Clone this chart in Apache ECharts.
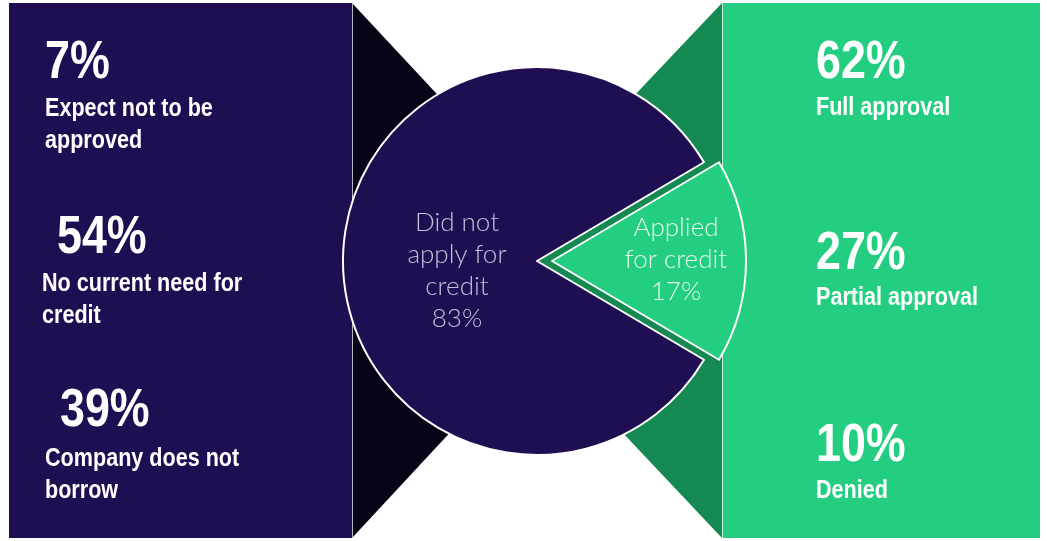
<!DOCTYPE html>
<html>
<head>
<meta charset="utf-8">
<script src="https://cdn.jsdelivr.net/npm/echarts@6/dist/echarts.min.js"></script>
<style>
html,body{margin:0;padding:0;background:#fff;}
#chart{width:1047px;height:541px;}
</style>
</head>
<body>
<div id="chart"></div>
<script>
// ---- data ----
const pieCategories = ['Applied\nfor credit', 'Did not\napply for\ncredit'];
const pieShares = [17, 83];
const leftValues = [7, 54, 39];
const leftLabels = ['Expect not to be\napproved', 'No current need for\ncredit', 'Company does not\nborrow'];
const rightValues = [62, 27, 10];
const rightLabels = ['Full approval', 'Partial approval', 'Denied'];

// ---- layout / style ----
const C = {
  purple: '#200e52', black: '#080316', green: '#23ce80', darkGreen: '#148952'
};
const leftNumPos = [[45, 63.5], [57, 238.5], [60, 411]];
const leftTextPos = [[45, 108.5], [42, 283.5], [45, 458.5]];
const rightNumPos = [[816, 63], [816, 254.5], [816, 446]];
const rightTextPos = [[816, 108], [816, 298], [816, 491]];
const labelOffsets = [[24, -1.5], [20, 9.5]];
const condense = 0.83;
const numFont = 'bold 54px "Liberation Sans", Arial, sans-serif';
const txtFont = 'bold 26px "Liberation Sans", Arial, sans-serif';

function numText(v, pos) {
  return { type: 'text', x: pos[0], y: pos[1], z: 10, scaleX: condense,
    style: { text: v + '%', fill: '#fff', font: numFont, align: 'left', verticalAlign: 'middle' } };
}
function lblText(t, pos) {
  return { type: 'text', x: pos[0], y: pos[1] - 16, z: 10, scaleX: condense,
    style: { text: t, fill: '#fff', font: txtFont, lineHeight: 32, align: 'left', verticalAlign: 'top' } };
}

const graphics = [
  { type: 'rect', z: 0, shape: { x: 9, y: 3, width: 343, height: 535 }, style: { fill: C.purple } },
  { type: 'rect', z: 0, shape: { x: 722, y: 3, width: 318, height: 535 }, style: { fill: C.green } },
  { type: 'polygon', z: 1, shape: { points: [[352, 3], [601, 270], [352, 538]] }, style: { fill: C.black } },
  { type: 'polygon', z: 2, shape: { points: [[722, 3], [469, 270], [722, 538]] }, style: { fill: C.darkGreen } },
  { type: 'line', z: 3, shape: { x1: 352.5, y1: 3, x2: 352.5, y2: 538 }, style: { stroke: '#b8b6c4', lineWidth: 1 } },
  { type: 'line', z: 3, shape: { x1: 722.5, y1: 3, x2: 722.5, y2: 538 }, style: { stroke: '#c8f0dc', lineWidth: 1 } }
];
leftValues.forEach((v, i) => { graphics.push(numText(v, leftNumPos[i])); graphics.push(lblText(leftLabels[i], leftTextPos[i])); });
rightValues.forEach((v, i) => { graphics.push(numText(v, rightNumPos[i])); graphics.push(lblText(rightLabels[i], rightTextPos[i])); });

const sliceColors = [C.green, C.purple];
const labelColors = ['#e4f8ee', '#c6c0da'];

const chart = echarts.init(document.getElementById('chart'), null, { renderer: 'canvas' });
chart.setOption({
  animation: false,
  backgroundColor: '#fff',
  graphic: { elements: graphics },
  series: [{
    type: 'pie',
    z: 5,
    center: [537, 261],
    radius: 194,
    startAngle: pieShares[0] * 3.6 / 2,
    clockwise: true,
    selectedMode: 'single',
    selectedOffset: 15,
    avoidLabelOverlap: false,
    emphasis: { disabled: true },
    itemStyle: { borderColor: '#ffffff', borderWidth: 2 },
    labelLine: { show: false },
    label: {
      show: true, position: 'inside',
      fontFamily: 'Lato, "Open Sans", sans-serif', fontWeight: 300, fontSize: 26, lineHeight: 32,
      formatter: p => p.name + '\n' + p.value + '%'
    },
    labelLayout: p => ({ dx: labelOffsets[p.dataIndex][0], dy: labelOffsets[p.dataIndex][1] }),
    data: pieCategories.map((n, i) => ({
      name: n, value: pieShares[i], selected: i === 0,
      itemStyle: { color: sliceColors[i] },
      select: { itemStyle: { color: sliceColors[i], borderColor: '#fff', borderWidth: 2 }, label: { color: labelColors[i] } },
      label: { color: labelColors[i] }
    }))
  }]
});
</script>
</body>
</html>
